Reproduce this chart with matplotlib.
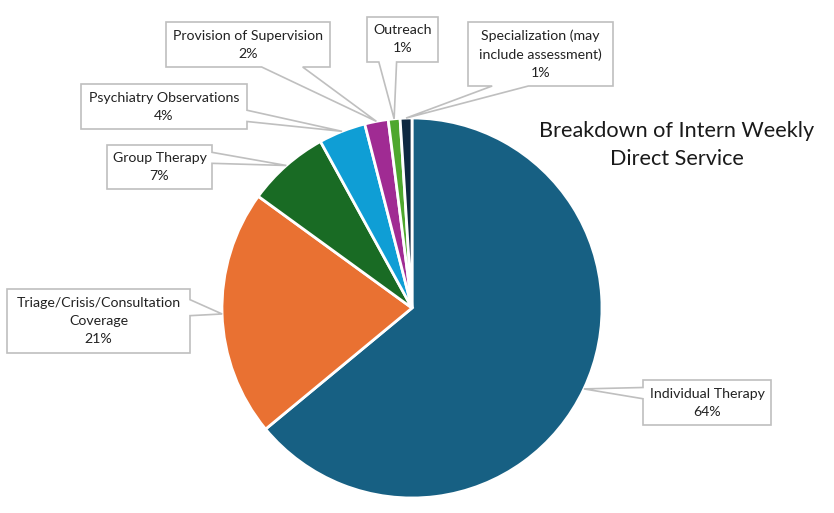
import numpy as np
import matplotlib
matplotlib.use("Agg")
import matplotlib.pyplot as plt
from matplotlib.patches import Polygon

plt.rcParams['font.family'] = ['Lato', 'DejaVu Sans']

# data
labels = ["Individual Therapy", "Triage/Crisis/Consultation\nCoverage", "Group Therapy",
          "Psychiatry Observations", "Provision of Supervision", "Outreach",
          "Specialization (may\ninclude assessment)"]
values = [64, 21, 7, 4, 2, 1, 1]
colors = ["#176083", "#e97132", "#196b24", "#0f9ed5", "#a02b93", "#4ea72e", "#0e2841"]
# callout boxes: x0, y0, x1, y1 in pixels from top-left
boxes = [(643, 380, 771, 425), (7, 289, 190, 353), (107, 145, 212, 189),
         (81, 84, 247, 129), (166, 22, 330, 67), (367, 17, 438, 62), (468, 22, 613, 86)]

W, H = 834, 513
fig = plt.figure(figsize=(W / 100, H / 100), dpi=100)
ax = fig.add_axes([0, 0, 1, 1])

cx, cy, R = 412, 308, 190   # pie centre in pixels (y down)
wedges, _ = ax.pie(values, colors=colors, startangle=90, counterclock=False,
                   center=(cx, H - cy), radius=R, frame=True,
                   wedgeprops=dict(edgecolor='white', linewidth=2))
ax.set_xlim(0, W)
ax.set_ylim(0, H)
ax.set_aspect('equal')
ax.axis('off')


def callout(box, tip):
    # rectangle callout with a wedge, like office's wedgeRectCallout
    x0, y0, x1, y1 = box
    w, h = x1 - x0, y1 - y0
    hc, vc = (x0 + x1) / 2, (y0 + y1) / 2
    tx, ty = tip
    dxp, dyp = tx - hc, ty - vc
    dx = dxp * h / w
    g1, g2 = (7, 10) if dxp > 0 else (2, 5)
    xa, xb = x0 + w * g1 / 12, x0 + w * g2 / 12
    g1, g2 = (7, 10) if dyp > 0 else (2, 5)
    ya, yb = y0 + h * g1 / 12, y0 + h * g2 / 12
    top = [(x0, y0)]
    right = [(x1, y0)]
    bottom = [(x1, y1)]
    left = [(x0, y1)]
    if abs(dyp) > abs(dx):
        if dyp < 0:
            top += [(xa, y0), (tx, ty), (xb, y0)]
        else:
            bottom += [(xb, y1), (tx, ty), (xa, y1)]
    else:
        if dxp > 0:
            right += [(x1, ya), (tx, ty), (x1, yb)]
        else:
            left += [(x0, yb), (tx, ty), (x0, ya)]
    pts = [(x, H - y) for x, y in top + right + bottom + left]
    ax.add_patch(Polygon(pts, closed=True, fc='white', ec='#bfbfbf', lw=1.2, zorder=3))


for wd, lab, v, box in zip(wedges, labels, values, boxes):
    ang = np.deg2rad((wd.theta1 + wd.theta2) / 2)
    tip = (cx + R * np.cos(ang), cy - R * np.sin(ang))
    callout(box, tip)
    ax.text((box[0] + box[2]) / 2, H - (box[1] + box[3]) / 2, f"{lab}\n{v}%",
            ha='center', va='center', fontsize=10.2, color='#222222',
            linespacing=1.6, zorder=4)

ax.text(677, H - 145, "Breakdown of Intern Weekly\nDirect Service", ha='center', va='center',
        fontsize=15.6, color='#1a1a1a', linespacing=1.45)

fig.savefig("out.png", dpi=100)
